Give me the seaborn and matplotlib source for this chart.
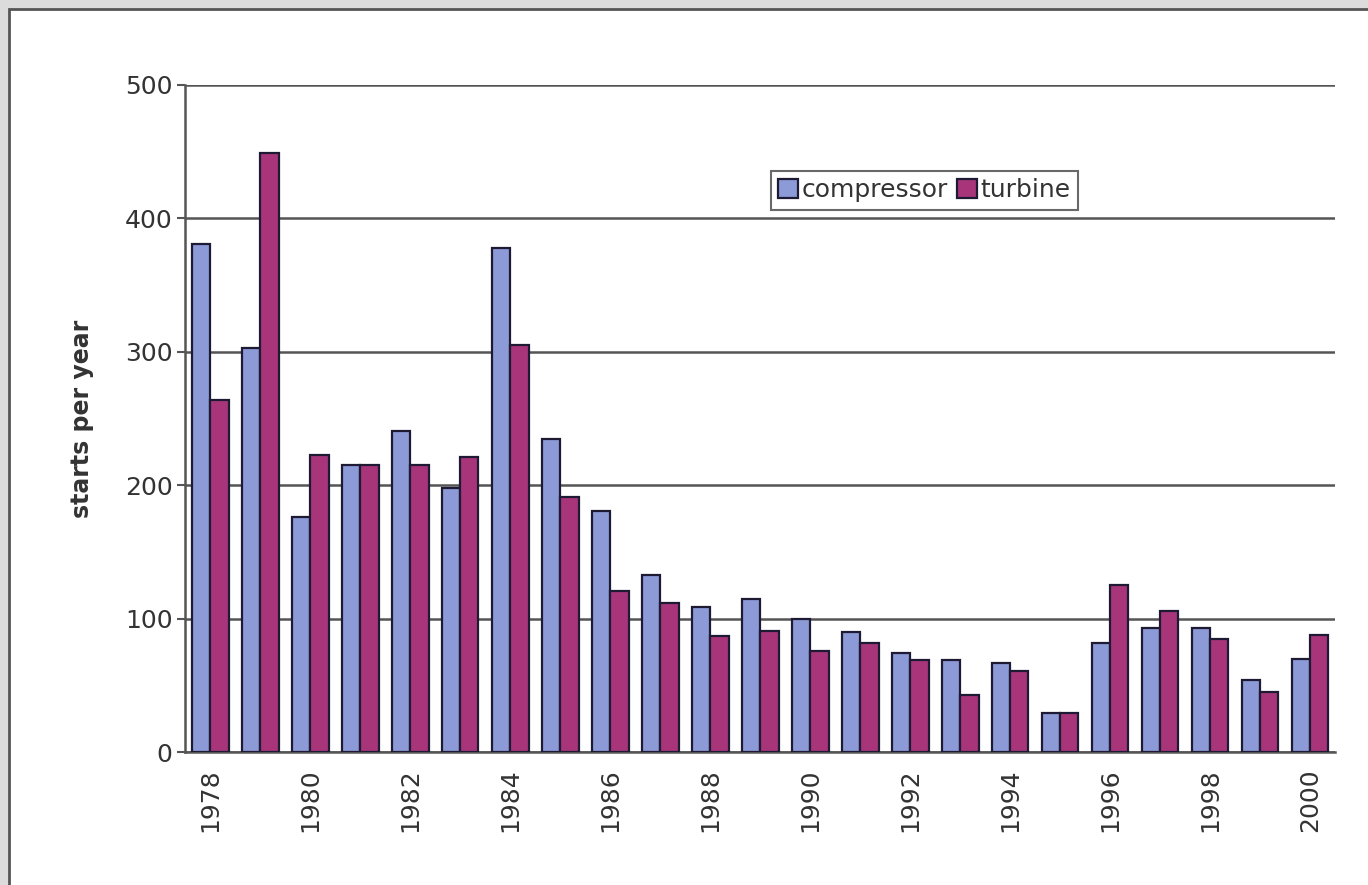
import numpy as np
import pandas as pd
import matplotlib
matplotlib.use("Agg")
import matplotlib.pyplot as plt
import seaborn as sns
from matplotlib.patches import Rectangle

# data
years = list(range(1978, 2001))
compressor = [381, 303, 176, 215, 241, 198, 378, 235, 181, 133, 109, 115,
              100, 90, 74, 69, 67, 29, 82, 93, 93, 54, 70]
turbine = [264, 449, 223, 215, 215, 221, 305, 191, 121, 112, 87, 91,
           76, 82, 69, 43, 61, 29, 125, 106, 85, 45, 88]

df = pd.DataFrame({
    "year": years * 2,
    "value": compressor + turbine,
    "series": ["compressor"] * len(years) + ["turbine"] * len(years),
})

sns.set_style("white")
plt.rcParams['font.family'] = ['DejaVu Sans']

fig = plt.figure(figsize=(13.68, 8.85), dpi=100, facecolor="#dcdcdc")
# white chart panel with dark border
fig.patches.append(Rectangle((9 / 1368, -0.01), 1.02, 1 - 9 / 885 + 0.01,
                             transform=fig.transFigure, facecolor="white",
                             edgecolor="#555555", linewidth=2, zorder=-10))

ax = fig.add_axes([185 / 1368, 1 - 752 / 885, (1335 - 185) / 1368, (752 - 85) / 885])
ax.set_facecolor("none")

palette = {"compressor": "#8c9ad8", "turbine": "#a8357a"}
sns.barplot(data=df, x="year", y="value", hue="series", palette=palette,
            width=0.74, edgecolor="#1e1a33", linewidth=1.6, saturation=1,
            ax=ax, zorder=3)

ax.set_ylim(0, 500)
ax.set_xlim(-0.5, len(years) - 0.5)
ax.set_yticks([0, 100, 200, 300, 400, 500])
ax.yaxis.grid(True, color="#555555", linewidth=1.8, zorder=0)
ax.set_axisbelow(True)

# year labels on even years, tick marks on group boundaries
ax.set_xticks(range(0, len(years), 2))
ax.set_xticklabels([str(y) for y in years[::2]], rotation=90)
ax.set_xticks(np.arange(-0.5, len(years), 2), minor=True)
ax.tick_params(axis="x", which="major", length=0, labelsize=18, colors="#333333", pad=12)
ax.tick_params(axis="x", which="minor", length=8, width=1.5, color="#555555", direction="out")
ax.tick_params(axis="y", labelsize=18, colors="#333333", length=6, width=1.5, color="#555555",
               left=True, pad=3)

for side in ["top", "right"]:
    ax.spines[side].set_visible(False)
ax.spines["left"].set_color("#555555")
ax.spines["left"].set_linewidth(1.8)
ax.spines["bottom"].set_color("#555555")
ax.spines["bottom"].set_linewidth(1.8)

ax.set_xlabel("")
ax.set_ylabel("starts per year", fontsize=17, fontweight="bold", color="#333333", labelpad=22)

leg = ax.legend(loc="center", bbox_to_anchor=(0.643, 0.842), ncol=2, fontsize=18,
                frameon=True, fancybox=False, handlelength=0.8, handleheight=0.8,
                handletextpad=0.15, columnspacing=0.35, borderpad=0.3)
leg.get_frame().set_edgecolor("#444444")
leg.get_frame().set_linewidth(1.5)
for t in leg.get_texts():
    t.set_color("#333333")

fig.savefig("out.png", dpi=100, facecolor=fig.get_facecolor())
